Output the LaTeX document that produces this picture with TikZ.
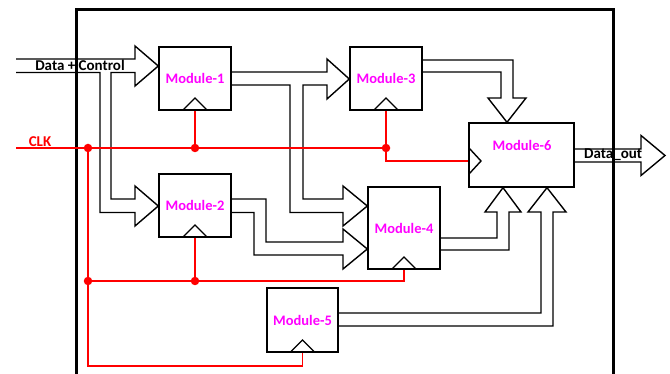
\documentclass[tikz,border=0pt]{standalone}
\usepackage{fontspec}
\setmainfont{Carlito}
\definecolor{modmag}{RGB}{255,0,255}
\begin{document}
\begin{tikzpicture}[x=1pt,y=-1pt,
  wire/.style={draw=black, line width=1.4pt, line join=miter},
  clkw/.style={draw=red, line width=1.4pt},
  jdot/.style={circle, fill=red, inner sep=0pt, minimum size=8.5pt},
  modfont/.style={font=\bfseries\fontsize{14.5}{16}\selectfont, text=modmag},
  mod/.style={draw=black, line width=1.4pt, inner sep=0pt, modfont},
  lbl/.style={font=\bfseries\fontsize{15}{17}\selectfont, inner sep=0pt}]
\useasboundingbox (0,0) rectangle (670,374);
% outer box
\draw[line width=3pt] (76,380) -- (76,10) -- (613,10) -- (613,380);
% modules
\node[mod, minimum width=72pt, minimum height=63pt] (m1) at (195,78.5) {Module-1};
\node[mod, minimum width=72pt, minimum height=63pt] (m2) at (195,205.5) {Module-2};
\node[mod, minimum width=72pt, minimum height=63pt] (m3) at (386,78.5) {Module-3};
\node[mod, minimum width=72pt, minimum height=82pt] (m4) at (404,228) {Module-4};
\node[mod, minimum width=71pt, minimum height=64pt] (m5) at (302.5,320) {Module-5};
\node[mod, minimum width=105pt, minimum height=64pt] (m6) at (521.5,155) {};
\node[modfont, inner sep=0pt] (m6t) at (522,145) {Module-6};
% clock triangles
\draw[wire] (183,110) -- (195,98) -- (207,110);
\draw[wire] (183,237) -- (195,225) -- (207,237);
\draw[wire] (374,110) -- (386,98) -- (398,110);
\draw[wire] (392,269) -- (404,257) -- (416,269);
\draw[wire] (290.5,352) -- (302.5,340) -- (314.5,352);
\draw[wire] (469,148) -- (481,161) -- (469,174);
% Data + Control bus
\draw[wire] (16,59) -- (135,59) -- (135,46) -- (m1.west |- 0,66) -- (135,86) -- (135,72.5)
  -- (111,72.5) -- (111,199) -- (135,199) -- (135,186) -- (m2.west |- 0,206) -- (135,226)
  -- (135,212.5) -- (100,212.5) -- (100,72.5) -- (16,72.5);
% Module-1 outputs
\draw[wire] (m1.east |- 0,72) -- (327,72) -- (327,59) -- (m3.west |- 0,79) -- (327,99) -- (327,85)
  -- (303,85) -- (303,199) -- (343,199) -- (343,186) -- (m4.west |- 0,206) -- (343,226)
  -- (343,212.5) -- (290,212.5) -- (290,85) -- (m1.east |- 0,85);
% Module-2 outputs
\draw[wire] (m2.east |- 0,199) -- (266,199) -- (266,242) -- (343,242) -- (343,229) -- (m4.west |- 0,249)
  -- (343,269) -- (343,255) -- (254,255) -- (254,212.5) -- (m2.east |- 0,212.5);
% Module-3 -> Module-6
\draw[wire] (m3.east |- 0,60) -- (513,60) -- (513,98) -- (526,98) -- (m6.north -| 507,0) -- (488,98)
  -- (501,98) -- (501,72) -- (m3.east |- 0,72);
% Module-4 -> Module-6
\draw[wire] (m4.east |- 0,238) -- (497,238) -- (497,212) -- (485,212) -- (m6.south -| 503,0) -- (521,212)
  -- (509,212) -- (509,250) -- (m4.east |- 0,250);
% Module-5 -> Module-6
\draw[wire] (m5.east |- 0,313) -- (541,313) -- (541,212) -- (528,212) -- (m6.south -| 547,0) -- (566,212)
  -- (553,212) -- (553,326) -- (m5.east |- 0,326);
% Data_out
\coordinate (dout) at (665,155.5);
\draw[wire] (m6.east |- 0,149) -- (641,149) -- (641,135.5) -- (dout) -- (641,175.5) -- (641,162) -- (m6.east |- 0,162);
% clock net
\node[jdot] (j1) at (88,148) {};
\node[jdot] (j2) at (195,148) {};
\node[jdot] (j3) at (386,148) {};
\node[jdot] (j4) at (88,281) {};
\node[jdot] (j5) at (195,281) {};
\coordinate (clkin) at (16,148);
\draw[clkw] (clkin) -- (j3.center);
\draw[clkw] (m1.south) -- (j2.center);
\draw[clkw] (m3.south) -- (j3.center) -- (386,161) -- (m6.west |- 0,161);
\draw[clkw] (m2.south) -- (j5.center);
\draw[clkw] (j1.center) -- (88,366) -- (m5.south |- 0,366) -- (m5.south);
\draw[clkw] (j4.center) -- (m4.south |- 0,281) -- (m4.south);
% labels
\node[lbl, anchor=base] (dc) at (80,71) {Data + Control};
\node[lbl, anchor=base, text=red] (clk) at (40,147) {CLK};
\node[lbl, anchor=base west] (do) at (584,159) {Data\_out};
\end{tikzpicture}
\end{document}
